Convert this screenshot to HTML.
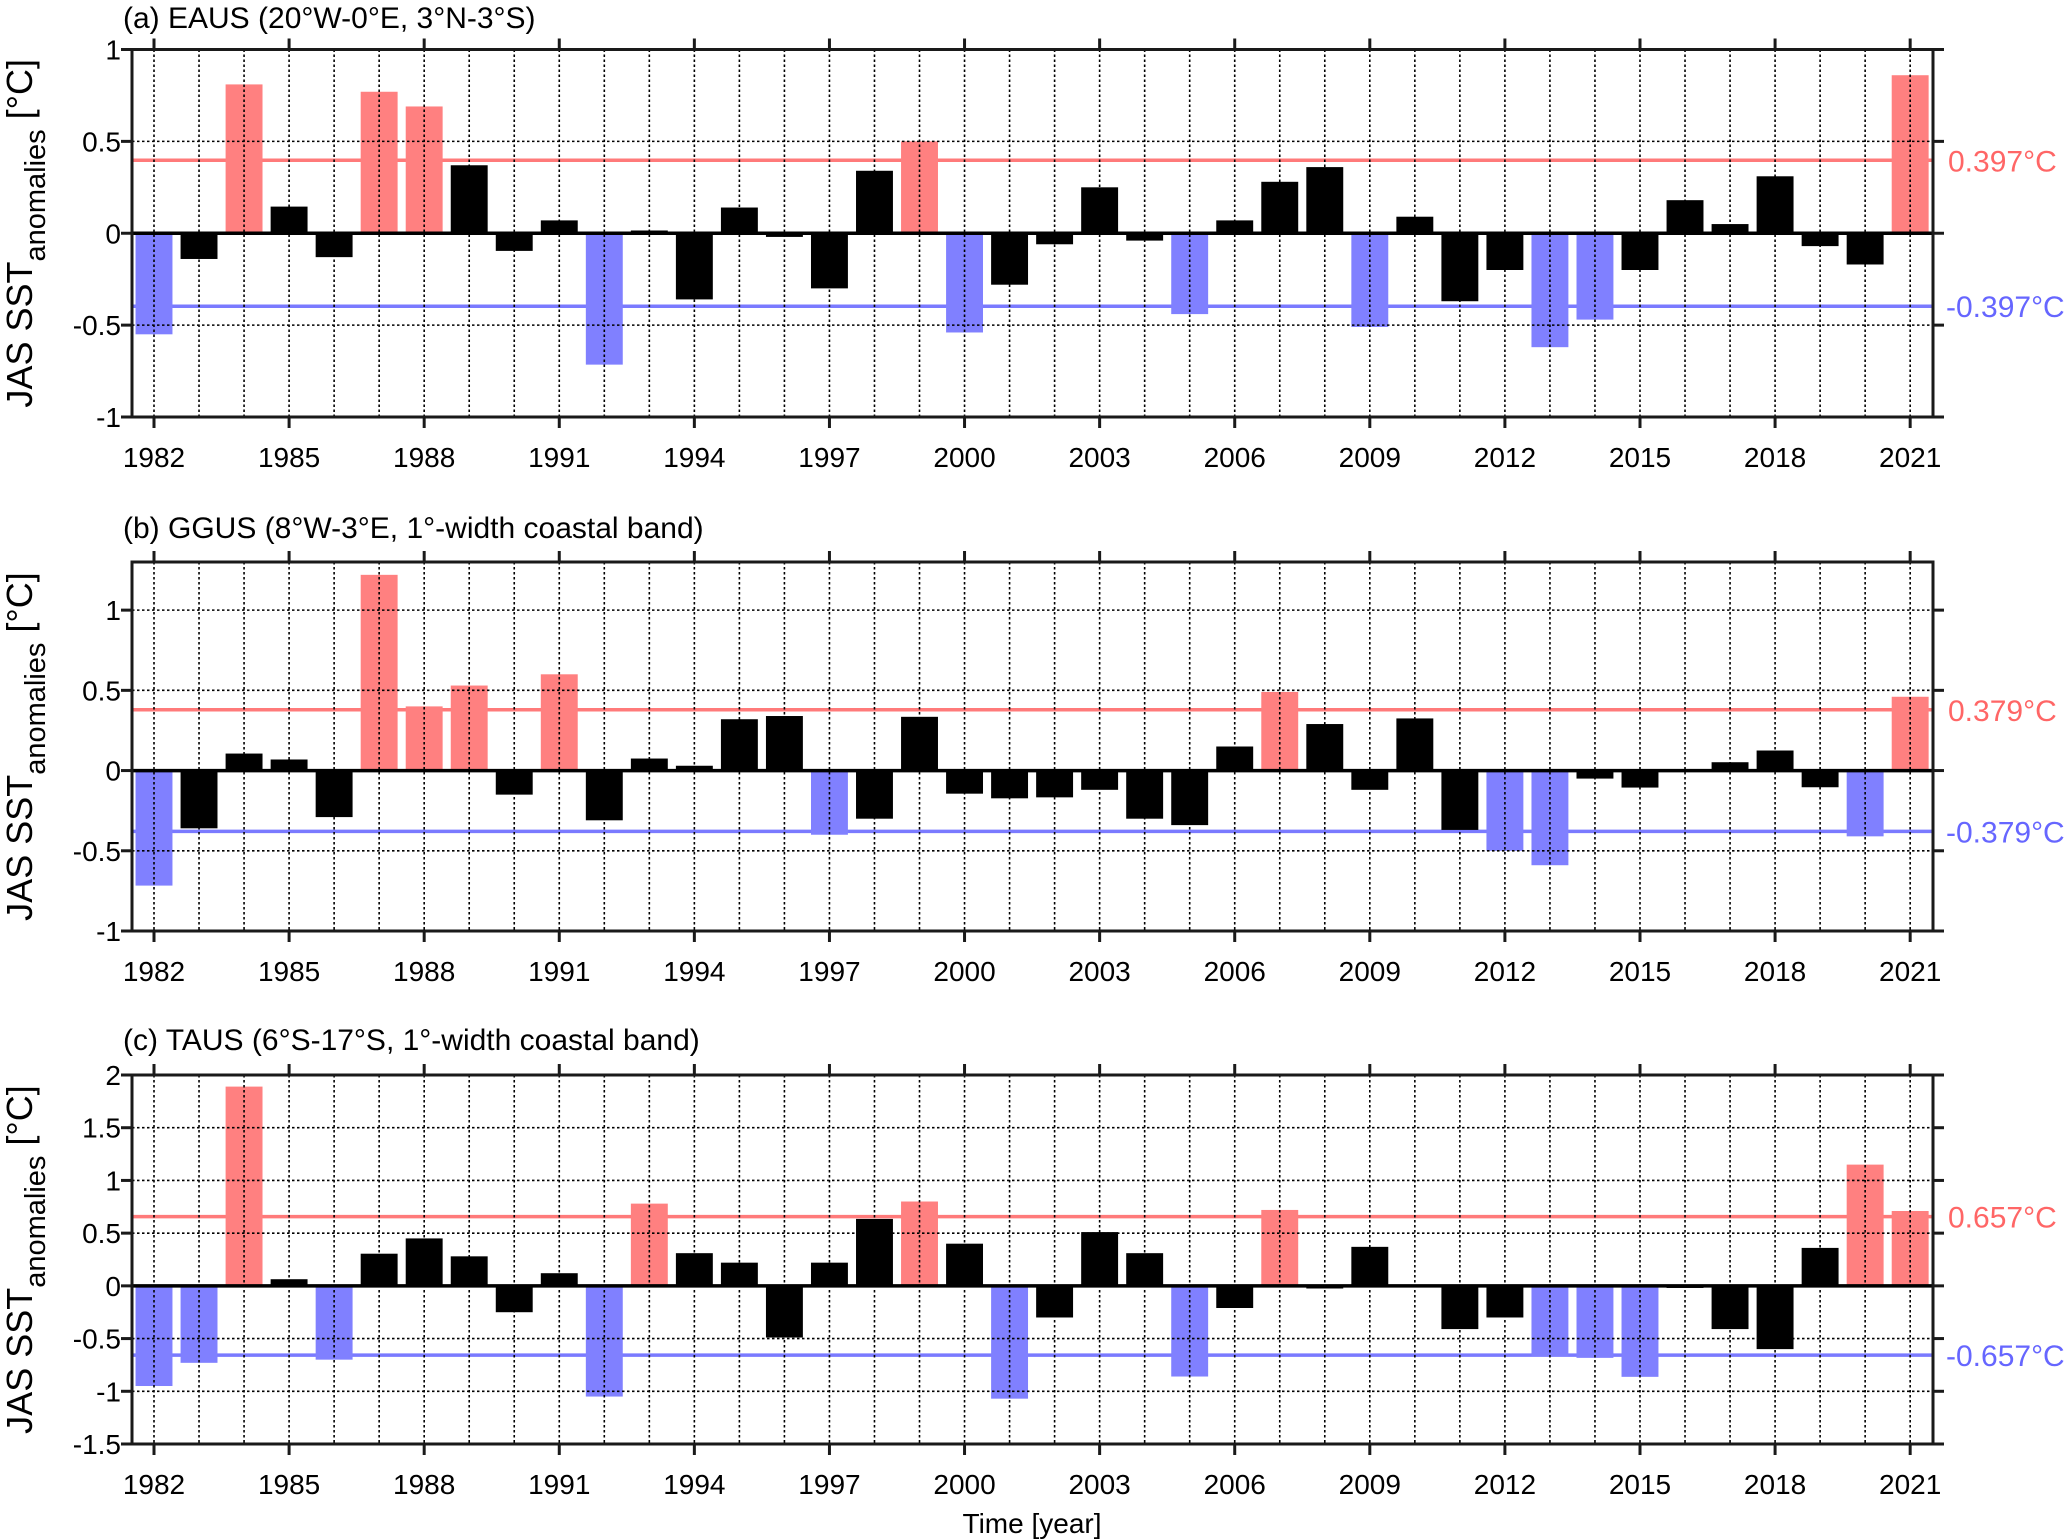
<!DOCTYPE html>
<html><head><meta charset="utf-8"><style>
html,body{margin:0;padding:0;background:#fff}
svg{display:block;font-family:"Liberation Sans",sans-serif}
</style></head><body>
<svg id="chart" width="2067" height="1540" viewBox="0 0 2067 1540" xmlns="http://www.w3.org/2000/svg"></svg>
<script>
const years = [];
for (let y = 1982; y <= 2021; y++) years.push(y);
const valuesA = [-0.55,-0.14,0.81,0.145,-0.13,0.77,0.69,0.37,-0.096,0.07,-0.715,0.015,-0.36,0.14,-0.02,-0.30,0.34,0.50,-0.54,-0.28,-0.06,0.25,-0.04,-0.44,0.07,0.28,0.36,-0.51,0.09,-0.37,-0.20,-0.62,-0.47,-0.20,0.18,0.05,0.31,-0.07,-0.17,0.86];
const valuesB = [-0.717,-0.36,0.106,0.069,-0.29,1.22,0.40,0.53,-0.15,0.60,-0.31,0.075,0.03,0.32,0.34,-0.40,-0.30,0.335,-0.144,-0.173,-0.167,-0.12,-0.30,-0.34,0.15,0.49,0.29,-0.12,0.325,-0.37,-0.50,-0.59,-0.05,-0.106,-0.005,0.052,0.125,-0.104,-0.41,0.46];
const valuesC = [-0.95,-0.73,1.89,0.063,-0.70,0.305,0.45,0.28,-0.25,0.12,-1.05,0.78,0.31,0.22,-0.49,0.22,0.635,0.80,0.40,-1.07,-0.30,0.51,0.31,-0.86,-0.21,0.72,-0.025,0.37,-0.005,-0.41,-0.30,-0.667,-0.683,-0.863,-0.02,-0.41,-0.60,0.36,1.15,0.71];
const thresholds = [0.397, 0.379, 0.657];
const yTicksA = [-1,-0.5,0,0.5,1];
const yTicksB = [-1,-0.5,0,0.5,1];
const yTicksC = [-1.5,-1,-0.5,0,0.5,1,1.5,2];
const yTickLabelsA = ["-1","-0.5","0","0.5","1"];
const yTickLabelsB = ["-1","-0.5","0","0.5","1"];
const yTickLabelsC = ["-1.5","-1","-0.5","0","0.5","1","1.5","2"];
const xTickYears = [1982,1985,1988,1991,1994,1997,2000,2003,2006,2009,2012,2015,2018,2021];
const titles = ["(a) EAUS (20°W-0°E, 3°N-3°S)","(b) GGUS (8°W-3°E, 1°-width coastal band)","(c) TAUS (6°S-17°S, 1°-width coastal band)"];

const NS = "http://www.w3.org/2000/svg";
const svg = document.getElementById('chart');
function mk(tag, attrs, parent){const e=document.createElementNS(NS,tag);for(const k in attrs)e.setAttribute(k,attrs[k]);(parent||svg).appendChild(e);return e;}

const L=132, R=1933, X0=154, DX=45.03;
const xOf = yr => X0 + (yr-1982)*DX;
const panels = [
 {id:'a', top:49.5, bot:417, ymin:-1, ymax:1, vals:valuesA, ticks:yTicksA, labels:yTickLabelsA, thr:thresholds[0], title:titles[0], titleY:28},
 {id:'b', top:562, bot:931, ymin:-1, ymax:1.3, vals:valuesB, ticks:yTicksB, labels:yTickLabelsB, thr:thresholds[1], title:titles[1], titleY:538},
 {id:'c', top:1075, bot:1444, ymin:-1.5, ymax:2, vals:valuesC, ticks:yTicksC, labels:yTickLabelsC, thr:thresholds[2], title:titles[2], titleY:1050}
];

panels.forEach(p=>{
  const g = mk('g',{});
  
  
  const yOf = v => p.bot - (v-p.ymin)/(p.ymax-p.ymin)*(p.bot-p.top);
  const t = mk('text',{x:123,y:p.titleY,'font-size':30,fill:'#000'},g); t.textContent=p.title;
  
  
  const lp = mk('line',{x1:L,x2:R,y1:yOf(p.thr),y2:yOf(p.thr),stroke:'#ff7a7a','stroke-width':3.5},g);
  
  
  const ln = mk('line',{x1:L,x2:R,y1:yOf(-p.thr),y2:yOf(-p.thr),stroke:'#7a7aff','stroke-width':3.5},g);
  
  
  const bw = 0.82*DX;
  p.vals.forEach((v,i)=>{
    const c = v>p.thr ? '#ff8080' : (v< -p.thr ? '#8080ff' : '#000');
    const y0=yOf(0), y1=yOf(v);
    const b = mk('rect',{x:xOf(years[i])-bw/2,y:Math.min(y0,y1),width:bw,height:Math.abs(y1-y0),fill:c},g);
    
    
  });
  years.forEach(yr=>{
    const gl = mk('line',{x1:xOf(yr),x2:xOf(yr),y1:p.top,y2:p.bot,stroke:'#000','stroke-width':1.6,'stroke-dasharray':'2.5 2.5'},g);
    
    
  });
  p.ticks.forEach(v=>{
    if(v===0) return;
    const gl = mk('line',{x1:L,x2:R,y1:yOf(v),y2:yOf(v),stroke:'#000','stroke-width':1.6,'stroke-dasharray':'2.5 2.5'},g);
    
    
  });
  const z = mk('line',{x1:L,x2:R,y1:yOf(0),y2:yOf(0),stroke:'#000','stroke-width':3.5},g);
  
  
  const box = mk('rect',{x:L,y:p.top,width:R-L,height:p.bot-p.top,fill:'none',stroke:'#1a1a1a','stroke-width':3},g);
  
  
  xTickYears.forEach(yr=>{
    const x=xOf(yr);
    mk('line',{x1:x,x2:x,y1:p.top-11,y2:p.top,stroke:'#1a1a1a','stroke-width':3},g);
    mk('line',{x1:x,x2:x,y1:p.bot,y2:p.bot+11,stroke:'#1a1a1a','stroke-width':3},g);
    const tl = mk('text',{x:x,y:p.bot+50,'font-size':28,'text-anchor':'middle',fill:'#000'},g);
    tl.textContent=yr;
    
    
  });
  p.ticks.forEach((v,i)=>{
    const y=yOf(v);
    mk('line',{x1:L-11,x2:L,y1:y,y2:y,stroke:'#1a1a1a','stroke-width':3},g);
    mk('line',{x1:R,x2:R+11,y1:y,y2:y,stroke:'#1a1a1a','stroke-width':3},g);
    const tl = mk('text',{x:121,y:y+10,'font-size':28,'text-anchor':'end',fill:'#000'},g);
    tl.textContent=p.labels[i];
    
    
  });
  const tp = mk('text',{x:1948,y:yOf(p.thr)+11,'font-size':30,fill:'#ff6666'},g);
  tp.textContent=p.thr.toFixed(3)+'°C';
  
  
  const tn = mk('text',{x:1946,y:yOf(-p.thr)+11,'font-size':30,fill:'#6666ff'},g);
  tn.textContent='-'+p.thr.toFixed(3)+'°C';
  
  
  const cy=(p.top+p.bot)/2;
  const yt = mk('text',{x:0,y:0,'font-size':36,'text-anchor':'middle',fill:'#000',transform:`translate(32,${cy}) rotate(-90)`},g);
  
  
  const s1=mk('tspan',{},yt); s1.textContent='JAS SST';
  const s2=mk('tspan',{dy:13,'font-size':29},yt); s2.textContent='anomalies';
  const s3=mk('tspan',{dy:-13},yt); s3.textContent=' [°C]';
});
const xt = mk('text',{x:1032,y:1533,'font-size':28,'text-anchor':'middle',fill:'#000'});
xt.textContent='Time [year]';


</script>
</body></html>
